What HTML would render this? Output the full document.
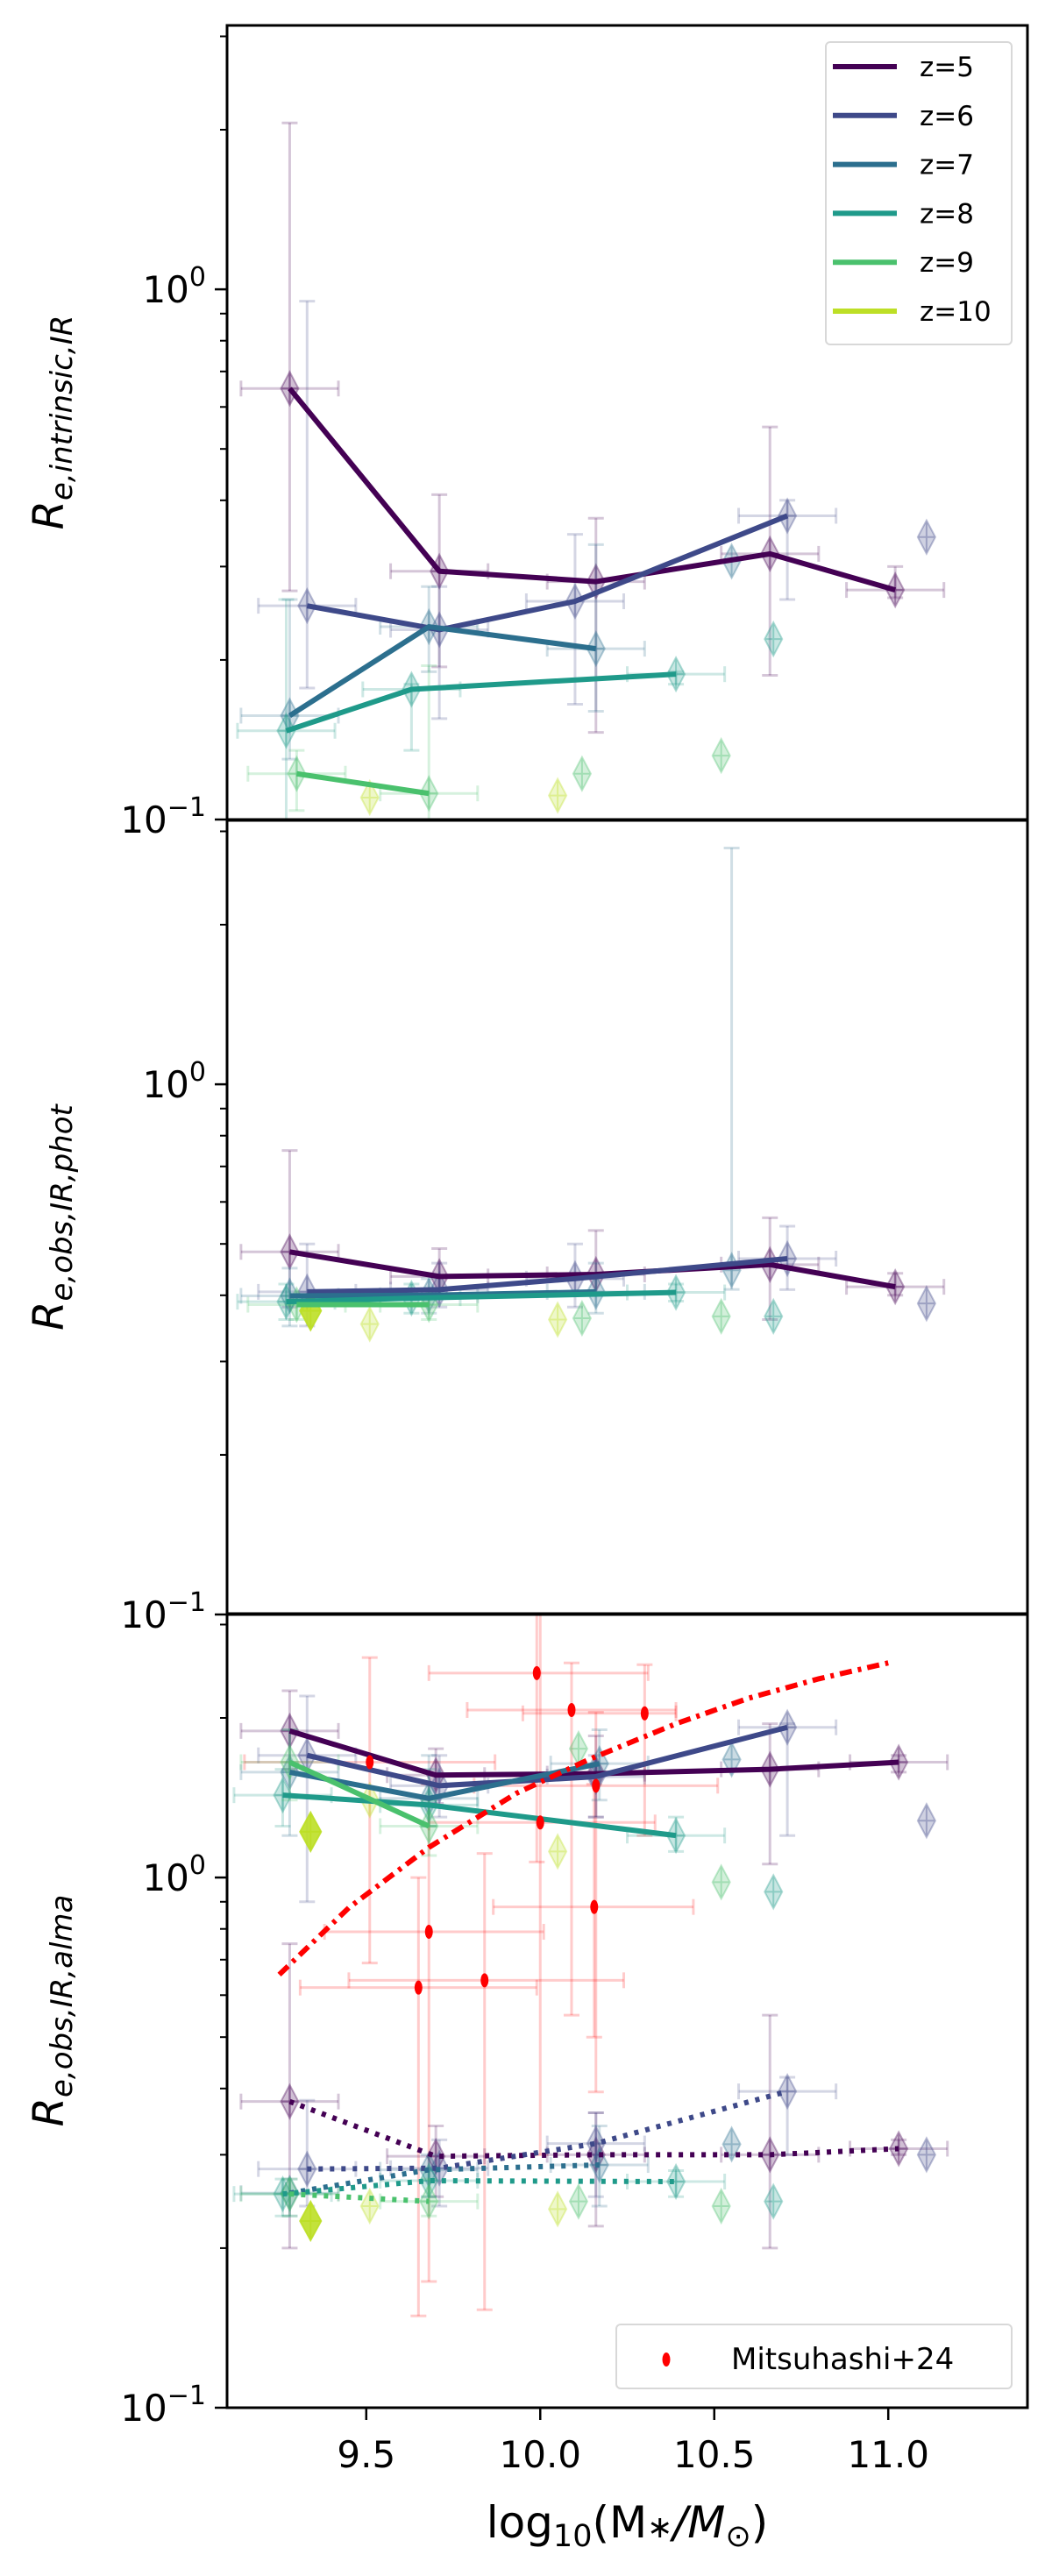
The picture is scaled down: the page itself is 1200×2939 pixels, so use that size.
<!DOCTYPE html>
<html><head><meta charset="utf-8"><style>
html,body{margin:0;padding:0;background:#fff;}
svg text{font-family:"DejaVu Sans","Liberation Sans",sans-serif;}
</style></head><body>
<svg id="chart" xmlns="http://www.w3.org/2000/svg" width="1200" height="2934" viewBox="0 0 1200 2934">
<rect width="1200" height="2934" fill="#fff"/>
<g id="plots"></g>
</svg>
<script>
// ---- data ----
const zLabels = ["z=5","z=6","z=7","z=8","z=9","z=10"];
const xTicks = [9.5, 10.0, 10.5, 11.0];
const xTickLabels = ["9.5","10.0","10.5","11.0"];
// Panel 1: intrinsic
const p1Mass = [[9.28,9.71,10.16,10.66,11.02],[9.33,9.71,10.10,10.71],[9.28,9.68,10.16],[9.27,9.63,10.39],[9.30,9.68],[]];
const p1Size = [[0.65,0.294,0.281,0.317,0.271],[0.253,0.228,0.258,0.374],[0.157,0.231,0.21],[0.147,0.176,0.188],[0.122,0.112],[]];
const p1Lo = [[0.27,0.194,0.146,0.187,0.262],[0.177,0.155,0.165,0.26],[0.13,0.19,0.16],[0.10,0.135,0.18],[0.104,0.1],[]];
const p1Hi = [[2.06,0.41,0.37,0.55,0.30],[0.95,0.275,0.345,0.40],[0.26,0.275,0.33],[0.26,0.18,0.19],[0.135,0.195],[]];
const p1ExtraZ = [1,2,3,4,4,5,5];
const p1ExtraM = [11.11,10.55,10.67,10.52,10.12,9.51,10.05];
const p1ExtraS = [0.341,0.307,0.219,0.132,0.122,0.11,0.111];
// Panel 2: obs phot
const p2Mass = p1Mass;
const p2Size = [[0.483,0.434,0.438,0.457,0.415],[0.406,0.41,0.43,0.469],[0.399,0.40,0.406],[0.389,0.395,0.405],[0.384,0.384],[]];
const p2Lo = [[0.38,0.41,0.40,0.36,0.40],[0.35,0.38,0.38,0.41],[0.35,0.37,0.37],[0.36,0.37,0.39],[0.36,0.36],[]];
const p2Hi = [[0.75,0.49,0.53,0.56,0.44],[0.50,0.46,0.50,0.54],[0.45,0.43,0.46],[0.42,0.42,0.42],[0.40,0.40],[]];
const p2ExtraZ = [1,2,3,4,4,5,5,5];
const p2ExtraM = [11.11,10.55,10.67,10.52,10.12,9.51,10.05,9.34];
const p2ExtraS = [0.386,0.446,0.365,0.365,0.362,0.353,0.36,0.374];
const p2ExtraHi = [0.386,2.79,0.365,0.365,0.362,0.353,0.36,0.374];
// Panel 3: obs alma
const p3Mass = [[9.28,9.70,10.16,10.66,11.03],[9.33,9.71,10.16,10.71],[9.28,9.68,10.17],[9.26,9.68,10.39],[9.28,9.68],[]];
const p3Size = [[1.89,1.56,1.57,1.60,1.65],[1.70,1.49,1.55,1.92],[1.58,1.41,1.64],[1.43,1.37,1.20],[1.65,1.25],[]];
const p3Lo = [[1.6,1.38,1.30,1.06,1.58],[0.9,1.3,1.3,1.2],[1.2,1.25,1.4],[1.25,1.25,1.12],[1.4,1.1],[]];
const p3Hi = [[2.25,1.75,1.85,1.95,1.70],[2.20,1.70,1.70,1.95],[1.9,1.70,1.90],[1.6,1.60,1.30],[1.9,1.4],[]];
const p3DotSize = [[0.378,0.298,0.30,0.30,0.308],[0.282,0.283,0.315,0.395],[0.254,0.281,0.287],[0.253,0.268,0.267],[0.253,0.245],[]];
const p3DotLo = [[0.2,0.25,0.22,0.2,0.30],[0.24,0.24,0.25,0.30],[0.23,0.25,0.24],[0.23,0.25,0.25],[0.23,0.23],[]];
const p3DotHi = [[0.75,0.34,0.36,0.55,0.32],[0.38,0.32,0.36,0.42],[0.27,0.30,0.34],[0.27,0.28,0.28],[0.27,0.27],[]];
const p3ExtraZ = [1,2,3,4,4,5,5,5];
const p3ExtraM = [11.11,10.55,10.67,10.52,10.11,9.51,10.05,9.34];
const p3ExtraS = [1.28,1.67,0.94,0.98,1.75,1.40,1.12,1.22];
const p3ExtraDotS = [0.30,0.314,0.245,0.24,0.245,0.24,0.237,0.225];
// Mitsuhashi+24
const mitsuM = [9.99,10.09,10.30,9.51,10.16,10.00,10.155,9.68,9.65,9.84];
const mitsuR = [2.43,2.07,2.04,1.65,1.49,1.27,0.88,0.79,0.62,0.64];
const mitsuXLo = [9.68,9.79,9.95,9.15,9.81,9.68,9.865,9.38,9.31,9.45];
const mitsuXHi = [10.31,10.39,10.39,9.87,10.51,10.33,10.44,10.01,9.99,10.24];
const mitsuRLo = [1.07,0.55,1.2,0.69,0.394,0.3,0.5,0.173,0.149,0.153];
const mitsuRHi = [3.3,2.54,2.52,2.6,2.05,3.3,1.5,1.5,1.0,1.11];
const curveM = [9.25,9.45,9.68,9.93,10.14,10.39,10.60,10.80,11.00];
const curveR = [0.656,0.877,1.14,1.44,1.67,1.95,2.18,2.37,2.54];

// ---- scales ----
const COLORS = ["#440154","#3e4989","#2c6f8e","#1f9a8a","#4ac16d","#bddf26"];
const L = 259, R = 1172, XMIN = 9.1, XMAX = 11.4;
const TOPS = [29, 936, 1841], H = 906;
const LOGTOP = Math.log10(3.146), LOGBOT = -1;
function X(m){ return L + (m - XMIN) / (XMAX - XMIN) * (R - L); }
function Y(v, p){ return TOPS[p] + (LOGTOP - Math.log10(v)) / (LOGTOP - LOGBOT) * H; }
const NS = "http://www.w3.org/2000/svg";
const root = document.getElementById('plots');
function el(tag, attrs, parent){
  const e = document.createElementNS(NS, tag);
  for (const k in attrs) e.setAttribute(k, attrs[k]);
  (parent || root).appendChild(e);
  return e;
}
function clampY(v,p){ return Math.max(TOPS[p], Math.min(TOPS[p]+H, Y(v,p))); }

function errbar(g, m, v, lo, hi, xlo, xhi, p, color, op){
  const x = X(m);
  const l = el('line', {x1:x, x2:x, y1:clampY(lo,p), y2:clampY(hi,p), stroke:color, 'stroke-width':3, opacity:op}, g);
  
  
  [lo,hi].forEach(function(t){ if (Y(t,p) > TOPS[p] && Y(t,p) < TOPS[p]+H) el('line', {x1:x-9, x2:x+9, y1:Y(t,p), y2:Y(t,p), stroke:color, 'stroke-width':3, opacity:op}, g); });
  if (xlo !== null){
    el('line', {x1:X(xlo), x2:X(xhi), y1:Y(v,p), y2:Y(v,p), stroke:color, 'stroke-width':3, opacity:op}, g);
    [xlo,xhi].forEach(function(t){ el('line', {x1:X(t), x2:X(t), y1:Y(v,p)-9, y2:Y(v,p)+9, stroke:color, 'stroke-width':3, opacity:op}, g); });
  }
}
function diamond(g, m, v, p, color, op, big){
  const x = X(m), y = Y(v,p), w = big ? 12 : 10, h = big ? 22 : 19;
  const d = el('path', {d:`M${x},${y-h} L${x+w},${y} L${x},${y+h} L${x-w},${y} Z M${x},${y-h} L${x},${y+h} M${x-w},${y} L${x+w},${y}`, fill:color, 'fill-opacity':big?0.9:0.25, stroke:color, 'stroke-opacity':big?0.9:0.35, 'stroke-width':2}, g);
  
  
}
function seriesLine(g, ms, vs, p, color, dotted){
  if (ms.length < 2) return;
  const pts = ms.map(function(m,i){ return X(m) + ',' + Y(vs[i],p); }).join(' ');
  const pl = el('polyline', {points:pts, fill:'none', stroke:color, 'stroke-width':dotted?6:6, 'stroke-dasharray':dotted?'5,8':'none', 'stroke-linejoin':'round'}, g);
  
  
}
function defaultXErr(m){ return [m-0.14, m+0.14]; }

function drawPanel(p, mass, size, lo, hi, exZ, exM, exS, exHi){
  const g = el('g', {});
  
  
  for (let z=0; z<6; z++){
    for (let i=0;i<mass[z].length;i++){
      const xe = defaultXErr(mass[z][i]);
      errbar(g, mass[z][i], size[z][i], lo[z][i], hi[z][i], xe[0], xe[1], p, COLORS[z], 0.22);
      diamond(g, mass[z][i], size[z][i], p, COLORS[z], 0.3, false);
    }
  }
  for (let i=0;i<exM.length;i++){
    const z = exZ[i];
    if (exHi && exHi[i] > exS[i]) errbar(g, exM[i], exS[i], exS[i]*0.92, exHi[i], null, null, p, COLORS[z], 0.22);
    diamond(g, exM[i], exS[i], p, COLORS[z], 0.3, z===5 && Math.abs(exM[i]-9.34)<0.01);
  }
  for (let z=0; z<6; z++) seriesLine(g, mass[z], size[z], p, COLORS[z], false);
  return g;
}

drawPanel(0, p1Mass, p1Size, p1Lo, p1Hi, p1ExtraZ, p1ExtraM, p1ExtraS, null);
drawPanel(1, p2Mass, p2Size, p2Lo, p2Hi, p2ExtraZ, p2ExtraM, p2ExtraS, p2ExtraHi);

const g3 = el('g', {});


for (let i=0;i<mitsuM.length;i++){
  errbar(g3, mitsuM[i], mitsuR[i], mitsuRLo[i], mitsuRHi[i], mitsuXLo[i], mitsuXHi[i], 2, '#ff0000', 0.2);
}
drawPanel(2, p3Mass, p3Size, p3Lo, p3Hi, p3ExtraZ, p3ExtraM, p3ExtraS, null);
const g3d = el('g', {});


for (let z=0; z<6; z++){
  for (let i=0;i<p3Mass[z].length;i++){
    const xe = defaultXErr(p3Mass[z][i]);
    errbar(g3d, p3Mass[z][i], p3DotSize[z][i], p3DotLo[z][i], p3DotHi[z][i], xe[0], xe[1], 2, COLORS[z], 0.22);
    diamond(g3d, p3Mass[z][i], p3DotSize[z][i], 2, COLORS[z], 0.3, false);
  }
}
for (let i=0;i<p3ExtraM.length;i++){
  const z = p3ExtraZ[i];
  diamond(g3d, p3ExtraM[i], p3ExtraDotS[i], 2, COLORS[z], 0.3, z===5 && Math.abs(p3ExtraM[i]-9.34)<0.01);
}
for (let z=0; z<6; z++) seriesLine(g3d, p3Mass[z], p3DotSize[z], 2, COLORS[z], true);
for (let i=0;i<mitsuM.length;i++){
  const e = el('ellipse', {cx:X(mitsuM[i]), cy:Y(mitsuR[i],2), rx:4.5, ry:8, fill:'#ff0000'});
  
  
}
const cv = el('polyline', {points:curveM.map(function(m,i){return X(m)+','+Y(curveR[i],2);}).join(' '), fill:'none', stroke:'#ff0000', 'stroke-width':6, 'stroke-dasharray':'14,7,4,7'});



// ---- axes ----
const minorVals = [0.2,0.3,0.4,0.5,0.6,0.7,0.8,0.9,2,3];
for (let p=0;p<3;p++){
  const ax = el('rect', {x:L, y:TOPS[p], width:R-L, height:H, fill:'none', stroke:'#000', 'stroke-width':3});
  
  
  [1, 0.1].forEach(function(v){
    const y = Y(v,p);
    el('line', {x1:L-14, x2:L, y1:y, y2:y, stroke:'#000', 'stroke-width':2.5});
    const t = el('text', {x:L-24, y:y+15, 'text-anchor':'end', 'font-size':42, fill:'#000'});
    
    
    t.appendChild(document.createTextNode('10'));
    const s = el('tspan', {dy:-19, 'font-size':30}, t);
    s.textContent = v===1 ? '0' : '\u22121';
  });
  minorVals.forEach(function(v){
    const y = Y(v,p);
    if (y >= TOPS[p] && y <= TOPS[p]+H) el('line', {x1:L-8, x2:L, y1:y, y2:y, stroke:'#000', 'stroke-width':2});
  });
}
xTicks.forEach(function(m,i){
  const x = X(m), yb = TOPS[2]+H;
  el('line', {x1:x, x2:x, y1:yb, y2:yb+14, stroke:'#000', 'stroke-width':2.5});
  const t = el('text', {x:x, y:yb+68, 'text-anchor':'middle', 'font-size':42, fill:'#000'});
  
  
  t.textContent = xTickLabels[i];
});
const xt = el('text', {x:(L+R)/2, y:2895, 'text-anchor':'middle', 'font-size':50, fill:'#000'});


xt.appendChild(document.createTextNode('log'));
el('tspan', {dy:10, 'font-size':35}, xt).textContent = '10';
el('tspan', {dy:-10}, xt).textContent = '(M';
el('tspan', {'font-size':35}, xt).textContent = '\u2217';
el('tspan', {'font-style':'italic'}, xt).textContent = '/M';
el('tspan', {dy:10, 'font-size':35}, xt).textContent = '\u2299';
el('tspan', {dy:-10}, xt).textContent = ')';
const ySubs = ['e,intrinsic,IR','e,obs,IR,phot','e,obs,IR,alma'];
for (let p=0;p<3;p++){
  const cy = TOPS[p] + H/2, cx = 72;
  const t = el('text', {x:cx, y:cy, 'text-anchor':'middle', 'font-size':48, 'font-style':'italic', fill:'#000', transform:`rotate(-90 ${cx} ${cy})`});
  
  
  t.appendChild(document.createTextNode('R'));
  el('tspan', {dy:10, 'font-size':34}, t).textContent = ySubs[p];
}
const lg = el('g', {});


el('rect', {x:942, y:48, width:212, height:345, rx:5, fill:'#fff', 'fill-opacity':0.85, stroke:'#d8d8d8', 'stroke-width':2}, lg);
zLabels.forEach(function(lab,i){
  const y = 76 + i*55.8;
  const ln = el('line', {x1:950, x2:1023, y1:y, y2:y, stroke:COLORS[i], 'stroke-width':6}, lg);
  
  
  const t = el('text', {x:1049, y:y+11, 'font-size':31, fill:'#000'}, lg);
  
  
  t.textContent = lab;
});
const lg2 = el('g', {});


el('rect', {x:703, y:2652, width:451, height:73, rx:5, fill:'#fff', 'fill-opacity':0.85, stroke:'#d8d8d8', 'stroke-width':2}, lg2);
el('ellipse', {cx:760, cy:2692, rx:4.5, ry:8, fill:'#ff0000'}, lg2);
const mt = el('text', {x:834, y:2703, 'font-size':34, fill:'#000'}, lg2);


mt.textContent = 'Mitsuhashi+24';
</script>
</body></html>
